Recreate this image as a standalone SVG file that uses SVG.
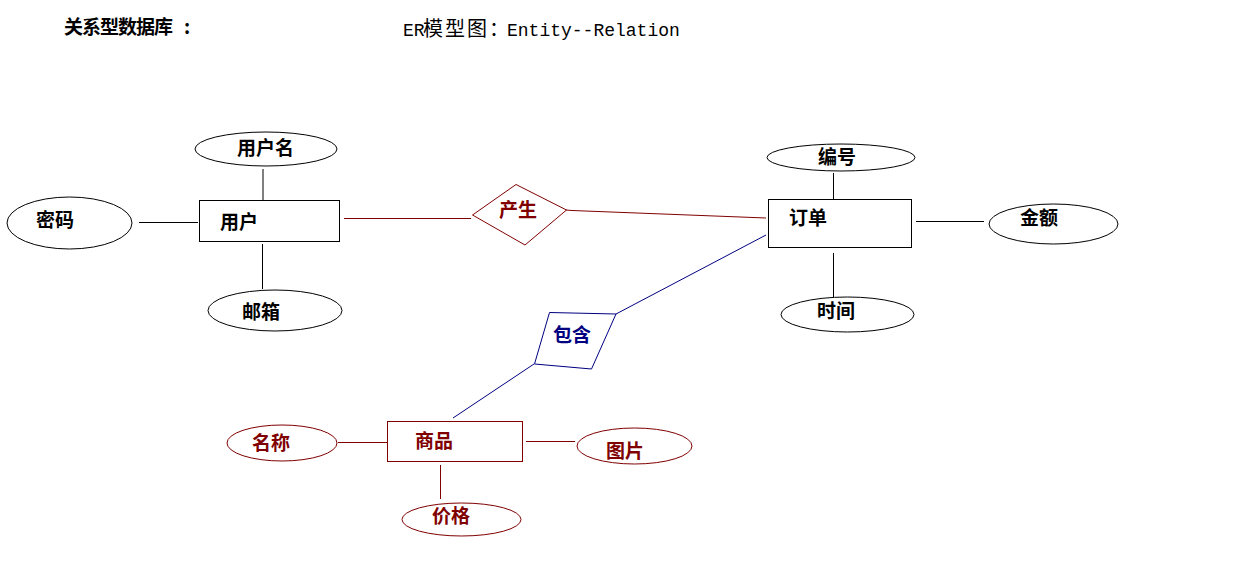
<svg xmlns="http://www.w3.org/2000/svg" width="1254" height="564" viewBox="0 0 1254 564">
<style>
text{font-family:"Noto Sans CJK SC","Liberation Sans",sans-serif;font-size:19px;font-weight:bold}
.k{fill:#000}
.r{fill:#800000}
.b{fill:#000080}
.sk{stroke:#000;fill:#fff;stroke-width:1}
.sr{stroke:#800000;fill:#fff;stroke-width:1}
.sb{stroke:#000080;fill:#fff;stroke-width:1}
.lk{stroke:#000;stroke-width:1;fill:none}
.lr{stroke:#800000;stroke-width:1;fill:none}
.lb{stroke:#000080;stroke-width:1;fill:none}
.t1{font-size:19px;font-weight:bold}
.t2{font-size:20px;font-weight:normal}
.mono{font-family:"Liberation Mono","Noto Sans CJK SC",monospace;font-weight:normal;font-size:18px}
</style>
<rect width="1254" height="564" fill="#fff"/>
<g id="titles">
<text class="k t1" x="64 82 100 118 136 154" y="34">关系型数据库</text>
<text class="k t1" x="184" y="34">:</text>
<text class="k t2" y="35.5"><tspan class="mono" x="403">ER</tspan><tspan x="423 445 467 489">模型图：</tspan><tspan class="mono" x="507">Entity--Relation</tspan></text>
</g>
<g id="connectors">
<line class="lk" x1="263" y1="169" x2="263" y2="200"/>
<line class="lk" x1="139" y1="222.5" x2="198" y2="222.5"/>
<line class="lk" x1="262.5" y1="244" x2="262.5" y2="289"/>
<line class="lr" x1="344" y1="218.5" x2="471" y2="218.5"/>
<polyline class="lr" points="566,210 572,210.5 766,218"/>
<line class="lk" x1="833.5" y1="173" x2="833.5" y2="199"/>
<line class="lk" x1="916" y1="221.5" x2="984" y2="221.5"/>
<line class="lk" x1="833.5" y1="253" x2="833.5" y2="298"/>
<line class="lb" x1="616" y1="314" x2="766" y2="235"/>
<line class="lb" x1="534" y1="364" x2="453" y2="418"/>
<line class="lr" x1="338" y1="442.5" x2="390" y2="442.5"/>
<line class="lr" x1="526" y1="441.5" x2="575" y2="441.5"/>
<line class="lr" x1="440.5" y1="465" x2="440.5" y2="499"/>
</g>
<g id="user">
<rect class="sk" x="199.5" y="200.5" width="140" height="41"/>
<text class="k" x="220" y="228.5">用户</text>
</g>
<g id="username">
<ellipse class="sk" cx="266" cy="149" rx="71" ry="17"/>
<text class="k" x="237" y="154.5">用户名</text>
</g>
<g id="password">
<ellipse class="sk" cx="69.5" cy="223" rx="62.5" ry="26"/>
<text class="k" x="36" y="226.5">密码</text>
</g>
<g id="email">
<ellipse class="sk" cx="275" cy="310.5" rx="67" ry="20.5"/>
<text class="k" x="242" y="318.5">邮箱</text>
</g>
<g id="produce">
<polygon class="sr" points="472.5,215 516,184.5 566.5,210 525,245"/>
<text class="r" x="499" y="216.5">产生</text>
</g>
<g id="order">
<rect class="sk" x="768.5" y="199.5" width="143" height="48"/>
<text class="k" x="789" y="224.5">订单</text>
</g>
<g id="orderno">
<ellipse class="sk" cx="841" cy="157.5" rx="74" ry="13.5"/>
<text class="k" x="818" y="163.5">编号</text>
</g>
<g id="amount">
<ellipse class="sk" cx="1053.5" cy="224" rx="64.5" ry="20"/>
<text class="k" x="1020" y="224.5">金额</text>
</g>
<g id="time">
<ellipse class="sk" cx="847.5" cy="314.5" rx="66.5" ry="17.5"/>
<text class="k" x="817" y="317.5">时间</text>
</g>
<g id="contain">
<polygon class="sb" points="549.5,312.5 616,314 591.5,369 534.5,364"/>
<text class="b" x="553" y="341.5">包含</text>
</g>
<g id="goods">
<rect class="sr" x="387.5" y="421.5" width="135" height="40"/>
<text class="r" x="415" y="447.5">商品</text>
</g>
<g id="goodsname">
<ellipse class="sr" cx="282" cy="443" rx="55" ry="18"/>
<text class="r" x="252" y="449.5">名称</text>
</g>
<g id="picture">
<ellipse class="sr" cx="634.5" cy="446" rx="57.5" ry="18"/>
<text class="r" x="606" y="457.5">图片</text>
</g>
<g id="price">
<ellipse class="sr" cx="461.5" cy="519.5" rx="59.5" ry="16.5"/>
<text class="r" x="432" y="522.5">价格</text>
</g>
</svg>
